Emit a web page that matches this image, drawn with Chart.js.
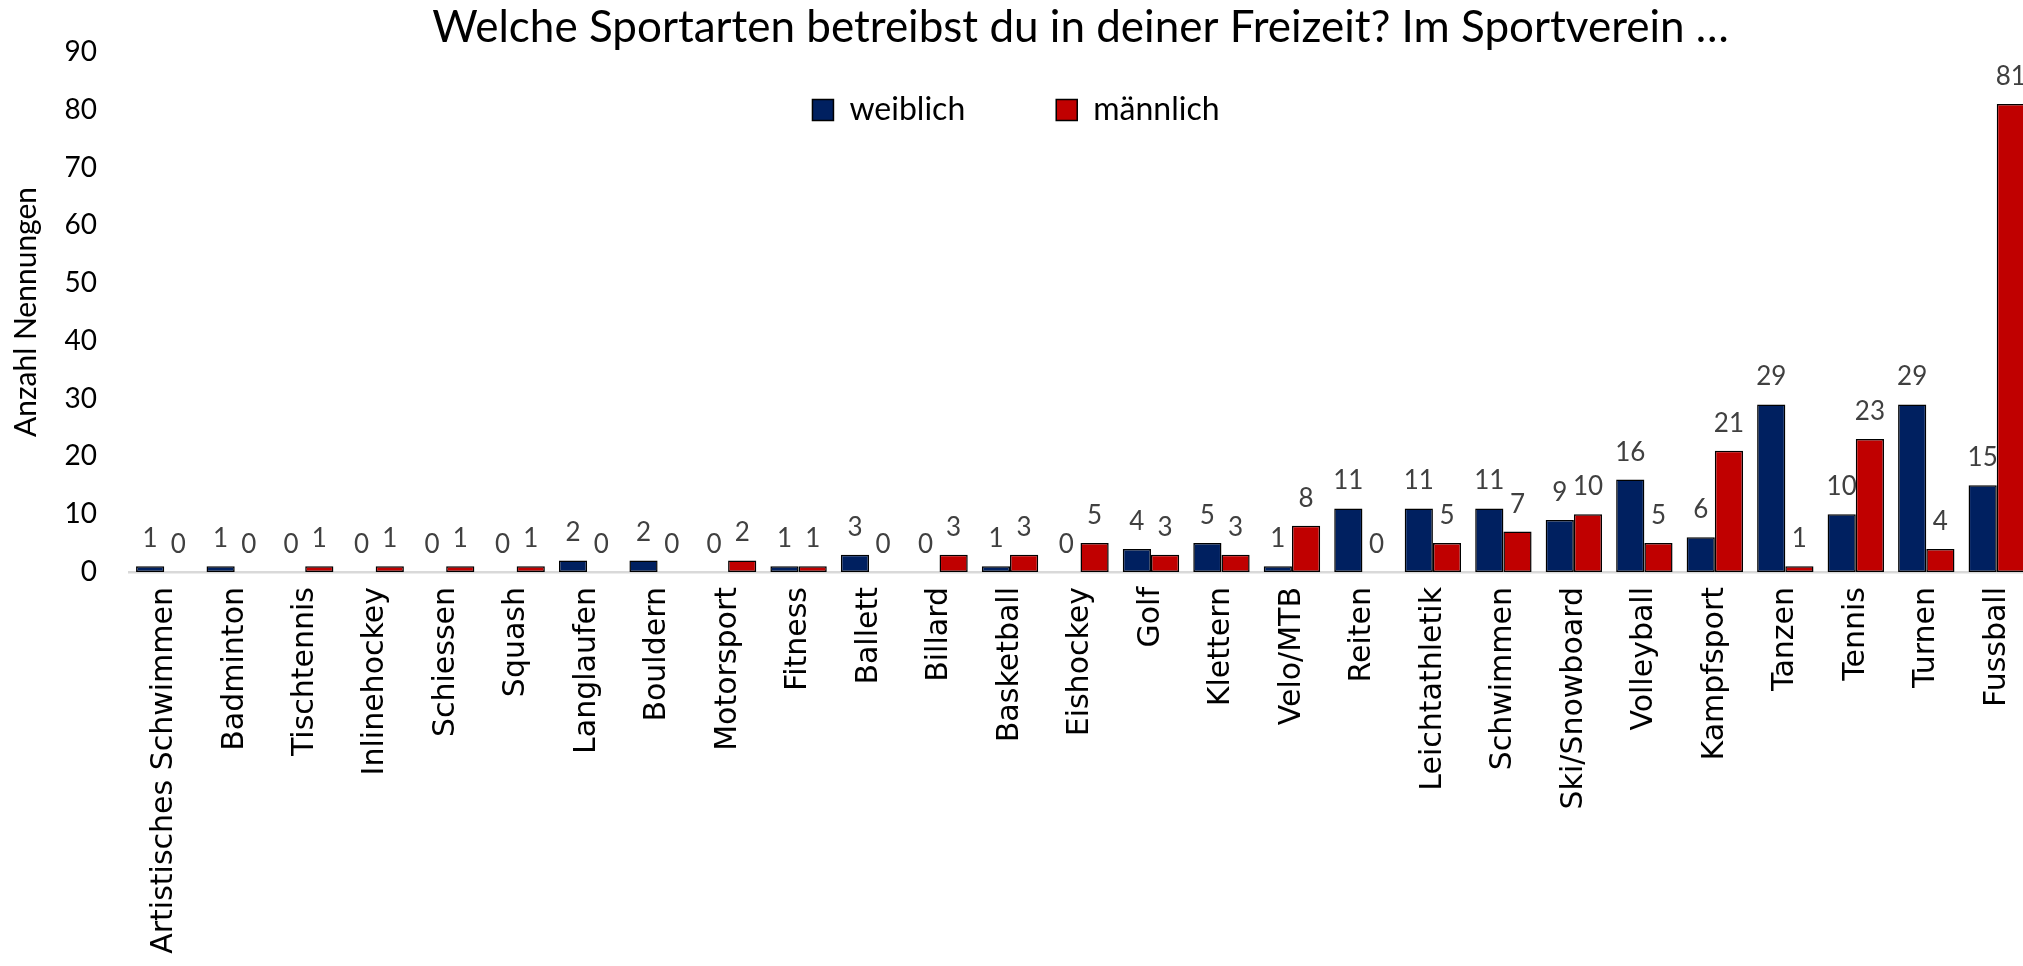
<!DOCTYPE html>
<html>
<head>
<meta charset="utf-8">
<title>Sportarten im Sportverein</title>
<script src="https://cdn.jsdelivr.net/npm/chart.js@4.4.0/dist/chart.umd.min.js"></script>
<style>
  html, body { margin: 0; padding: 0; background: #fff; overflow: hidden; }
</style>
</head>
<body>
<canvas id="sportChart" width="2032" height="966"></canvas>
<script>
let sportarten = [
  "Artistisches Schwimmen", "Badminton", "Tischtennis", "Inlinehockey", "Schiessen",
  "Squash", "Langlaufen", "Bouldern", "Motorsport", "Fitness", "Ballett", "Billard",
  "Basketball", "Eishockey", "Golf", "Klettern", "Velo/MTB", "Reiten", "Leichtathletik",
  "Schwimmen", "Ski/Snowboard", "Volleyball", "Kampfsport", "Tanzen", "Tennis", "Turnen",
  "Fussball"
];
let weiblich = [1, 1, 0, 0, 0, 0, 2, 2, 0, 1, 3, 0, 1, 0, 4, 5, 1, 11, 11, 11, 9, 16, 6, 29, 10, 29, 15];
let maennlich = [0, 0, 1, 1, 1, 1, 0, 0, 2, 1, 0, 3, 3, 5, 3, 3, 8, 0, 5, 7, 10, 5, 21, 1, 23, 4, 81];
let yTickValues = [0, 10, 20, 30, 40, 50, 60, 70, 80, 90];

// legend sits inside the plot, just under the title
const legendInPlot = {
  id: "legendInPlot",
  afterLayout(chart) {
    let lg = chart.legend;
    let pad = lg.options.labels.padding;
    lg.top = 110 - 16 - pad;
    lg.height = 160;
    lg.bottom = lg.top + lg.height;
  },
};

// numbers above every bar
const valueLabels = {
  id: "valueLabels",
  afterDatasetsDraw(chart) {
    let ctx = chart.ctx;
    ctx.save();
    ctx.font = "26px Lato";
    ctx.fillStyle = "#404040";
    ctx.textAlign = "center";
    ctx.textBaseline = "alphabetic";
    chart.data.datasets.forEach((ds, i) => {
      chart.getDatasetMeta(i).data.forEach((bar, j) => {
        ctx.fillText(ds.data[j], bar.x, bar.y - 19);
      });
    });
    ctx.restore();
  },
};

let chart1 = document.getElementById("sportChart").getContext("2d");

const myChart1 = new Chart(chart1, {
  type: "bar",
  data: {
    labels: sportarten,
    datasets: [
      {
        label: "weiblich",
        data: weiblich,
        backgroundColor: "#002060",
        borderColor: "#000",
        borderWidth: 1.5,
        borderSkipped: false,
      },
      {
        label: "männlich",
        data: maennlich,
        backgroundColor: "#c00000",
        borderColor: "#000",
        borderWidth: 1.5,
        borderSkipped: false,
      },
    ],
  },
  options: {
    responsive: false,
    animation: false,
    layout: { padding: 0 },
    datasets: {
      bar: { categoryPercentage: 0.8, barPercentage: 1 },
    },
    plugins: {
      title: {
        display: true,
        text: "Welche Sportarten betreibst du in deiner Freizeit? Im Sportverein …",
        fullSize: false,
        color: "#000",
        font: { family: "Lato", size: 44, weight: "normal", lineHeight: 1.0 },
        padding: { top: 5.4, bottom: 1.6 },
      },
      legend: {
        display: true,
        position: "top",
        maxHeight: 1,
        labels: {
          boxWidth: 21,
          boxHeight: 21,
          padding: 91,
          color: "#000",
          font: { family: "Lato", size: 32 },
        },
      },
      tooltip: { enabled: false },
    },
    scales: {
      x: {
        grid: { display: false, drawTicks: false },
        border: { display: true, color: "#d9d9d9", width: 2.5 },
        ticks: {
          autoSkip: false,
          minRotation: 90,
          maxRotation: 90,
          padding: 15,
          color: "#000",
          font: { family: "DejaVu Sans", size: 30 },
        },
        afterFit: (scale) => {
          scale.height = 394;
          scale.paddingRight = 0;
        },
      },
      y: {
        min: 0,
        max: 90,
        grid: { display: false, drawTicks: false },
        border: { display: false },
        afterBuildTicks: (axis) => {
          axis.ticks = yTickValues.map((v) => ({ value: v }));
        },
        ticks: {
          padding: 32,
          color: "#000",
          font: { family: "Lato", size: 28 },
        },
        title: {
          display: true,
          text: "Anzahl Nennungen",
          color: "#000",
          font: { family: "Lato", size: 30 },
          padding: { top: 8, bottom: 0 },
        },
        afterFit: (scale) => {
          scale.width = 129;
        },
      },
    },
  },
  plugins: [legendInPlot, valueLabels],
});
</script>
</body>
</html>
